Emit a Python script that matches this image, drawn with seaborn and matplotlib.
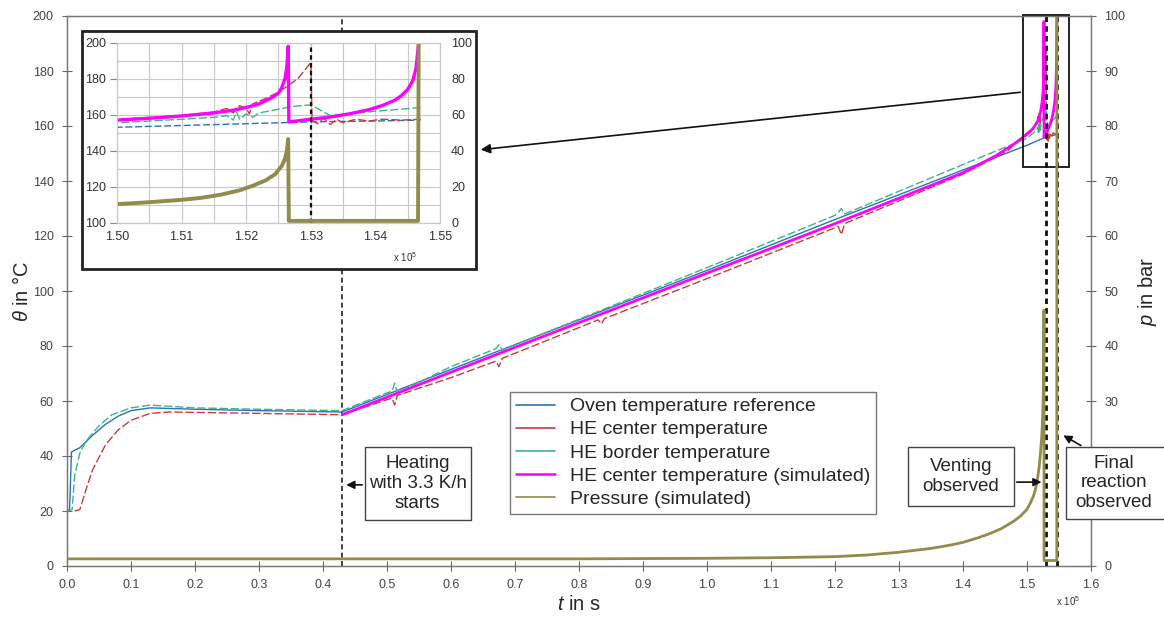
import numpy as np
import seaborn as sns
import matplotlib.pyplot as plt
from matplotlib.lines import Line2D
from matplotlib.patches import Rectangle

# time axis in units of 1e5 s
t_oven = [0.0, 0.004, 0.007, 0.02, 0.04, 0.06, 0.08, 0.10, 0.13, 0.20, 0.30, 0.43,
          0.60, 0.80, 1.00, 1.20, 1.40, 1.50, 1.51, 1.52, 1.53, 1.54, 1.547]
oven = [20, 20.5, 41.5, 43, 47.5, 51.5, 54.5, 56.5, 57.5, 57, 56.5, 56,
        71.5, 89.5, 107.5, 126, 144, 153, 154, 155, 156, 156.5, 157]

t_center = [0.012, 0.02, 0.03, 0.04, 0.06, 0.08, 0.10, 0.13, 0.16, 0.30, 0.43,
            0.50, 0.508, 0.512, 0.516, 0.60, 0.67, 0.675, 0.68, 0.83, 0.835, 0.84,
            1.00, 1.20, 1.205, 1.21, 1.215, 1.40, 1.47, 1.50, 1.51, 1.515, 1.517,
            1.518, 1.519, 1.520, 1.5205, 1.521, 1.523, 1.525, 1.528, 1.530,
            1.5302, 1.531, 1.532, 1.533, 1.534, 1.535, 1.537, 1.539, 1.541, 1.544, 1.547]
center = [20, 20.5, 28, 35, 44, 49.5, 53, 55.5, 56, 55.5, 55,
          60.5, 61, 58.5, 62, 68.5, 74.5, 72.5, 75.5, 89.5, 88, 90,
          104.5, 123, 123.5, 120.5, 124.5, 142.5, 151, 157.5, 159.5, 161.5, 163.5,
          161, 165, 163.5, 160.5, 166, 169, 172.5, 180, 189,
          157, 155, 158, 154.5, 157.5, 155.5, 157.5, 156.5, 157.5, 157, 157.5]

t_border = [0.0, 0.008, 0.012, 0.02, 0.03, 0.05, 0.07, 0.10, 0.13, 0.20, 0.30, 0.43,
            0.50, 0.508, 0.512, 0.516, 0.60, 0.67, 0.675, 0.68, 1.00, 1.20, 1.205,
            1.21, 1.215, 1.40, 1.50, 1.51, 1.515, 1.517, 1.518, 1.5185, 1.519, 1.520,
            1.521, 1.522, 1.525, 1.527, 1.530, 1.533, 1.537, 1.542, 1.547]
border = [20, 20.5, 33, 41, 45.5, 51, 55, 57.5, 58.5, 57.5, 57, 56.5,
          63, 63.5, 66.5, 63, 72.5, 79, 80.5, 78.5, 108.5, 127.5, 128.5,
          130, 128, 146, 155.5, 157.5, 158.5, 159.5, 157, 161.5, 157.5, 160.5,
          158.5, 161, 163, 164.5, 165.5, 159.5, 161, 162.5, 164]

t_sim = [0.43, 0.60, 0.80, 1.00, 1.20, 1.40, 1.45, 1.48, 1.50, 1.505, 1.51, 1.515,
         1.518, 1.52, 1.522, 1.524, 1.525, 1.5255, 1.526, 1.5263, 1.5265, 1.5266,
         1.53, 1.533, 1.536, 1.539, 1.541, 1.543, 1.544, 1.545, 1.5458, 1.5463, 1.5467]
sim = [55, 70.5, 88.5, 106.5, 124.5, 143, 149, 153.5, 157, 158, 159.3, 161,
       162.5, 164, 166, 169.5, 172, 175, 180, 187, 198, 156,
       157.5, 158.7, 160.5, 162.8, 165, 168, 170.5, 174, 179, 186, 200]

t_p = [0.0, 0.2, 0.4, 0.6, 0.8, 1.0, 1.1, 1.2, 1.25, 1.3, 1.35, 1.38, 1.4, 1.42,
       1.44, 1.46, 1.48, 1.49, 1.50, 1.505, 1.51, 1.513, 1.516, 1.519, 1.521,
       1.523, 1.5245, 1.5255, 1.526, 1.5263, 1.5265, 1.5266, 1.5466, 1.5467]
pressure = [1.3, 1.3, 1.3, 1.3, 1.3, 1.4, 1.5, 1.7, 2.0, 2.5, 3.2, 3.8, 4.3, 5.0,
            5.8, 6.8, 8.2, 9.1, 10.3, 11.4, 12.7, 13.8, 15.5, 18, 20.5,
            23.5, 27, 31.5, 35.5, 40, 46.5, 1.0, 1.0, 100]

events = [0.43, 1.53, 1.547]

labels = ['Oven temperature reference', 'HE center temperature',
          'HE border temperature', 'HE center temperature (simulated)',
          'Pressure (simulated)']
colors = ['#2a74b5', '#d0393b', '#3cb58a', '#ff00ff', '#8f8c4c']

sns.set_style('ticks')
plt.rcParams['font.family'] = ['Liberation Sans', 'DejaVu Sans']
plt.rcParams['mathtext.fontset'] = 'custom'
plt.rcParams['mathtext.it'] = 'Liberation Sans:italic'
plt.rcParams['mathtext.rm'] = 'Liberation Sans'

W, H = 1164, 619
fig = plt.figure(figsize=(W / 100, H / 100), dpi=100)
ax = fig.add_axes([67 / W, 53 / H, 1024 / W, 550 / H])
ax2 = ax.twinx()


def draw(a, t, v, color, lw, ls='-'):
    sns.lineplot(x=t, y=v, ax=a, color=color, lw=lw, linestyle=ls,
                 sort=False, estimator=None, legend=False)


def draw_all(a, b, big):
    draw(a, t_oven, oven, colors[0], 1.0, '-' if big else (0, (5, 2)))
    draw(a, t_center, center, colors[1], 1.0, (0, (6, 2)))
    draw(a, t_border, border, colors[2], 1.0, (0, (6, 2)))
    draw(a, t_sim, sim, colors[3], 2.0 if big else 2.4)
    draw(b, t_p, pressure, colors[4], 2.0 if big else 2.8)


draw_all(ax, ax2, True)

ax.set_xlim(0, 1.6)
ax.set_ylim(0, 200)
ax2.set_ylim(0, 100)
ax.set_xticks(np.arange(0, 1.61, 0.1))
ax.set_xticklabels([f'{v:.1f}' for v in np.arange(0, 1.61, 0.1)])
ax.set_yticks(range(0, 201, 20))
# labels 10 and 20 sit under the "Final reaction observed" box
p_ticks = list(range(0, 101, 10))
ax2.set_yticks(p_ticks)
ax2.set_yticklabels(['' if v in (10, 20) else str(v) for v in p_ticks])
for a in (ax, ax2):
    a.tick_params(direction='inout', length=7, width=0.8, color='#666',
                  labelsize=9, labelcolor='#444', pad=6)
    for s in a.spines.values():
        s.set_color('#777')
        s.set_linewidth(0.9)
        s.set_visible(True)

ax.set_xlabel(r'$t$ in s', fontsize=14.5, labelpad=3)
ax.set_ylabel(r'$\theta$ in °C', fontsize=14.5)
ax.yaxis.set_label_coords(-0.034, 0.5)
ax2.set_ylabel(r'$p$ in bar', fontsize=14.5)
ax2.yaxis.set_label_coords(1.044, 0.5)
fig.text(1068 / W, 1 - 601 / H, r'x 10$^5$', fontsize=7, color='#333', ha='center', va='center')

# event lines
ax.axvline(events[0], color='#222', lw=1.2, ls=(0, (3, 2)), zorder=1)
for e in events[1:]:
    ax.axvline(e, color='#111', lw=2, ls=(0, (2, 1.5)), zorder=5)

# zoom box in main plot
ax.add_patch(Rectangle((1.494, 145), 0.072, 55.5, fill=False, ec='#111', lw=1.3,
                       clip_on=False, zorder=6))

# annotation boxes (drawn on the twin axes so they sit above the right ticks)
arrow_kw = dict(arrowstyle='-|>', color='#111', lw=1.2, mutation_scale=12)
boxes = [((0.4656, 16.7), 0.1657, 26.6, (0.548, 30.0), 'Heating\nwith 3.3 K/h\nstarts'),
         ((1.3141, 21.8), 0.1656, 21.5, (1.397, 32.5), 'Venting\nobserved'),
         ((1.5609, 17.1), 0.1700, 26.2, (1.636, 30.2), 'Final\nreaction\nobserved')]
for (x0, y0), w, h, (tx, ty), txt in boxes:
    ax2.add_patch(Rectangle((x0, y0), w, h, transform=ax.transData, fc='white',
                            ec='#444', lw=1, clip_on=False, zorder=7))
    ax2.text(tx, ty, txt, transform=ax.transData, ha='center', va='center',
             fontsize=13.5, linespacing=1.2, zorder=8, clip_on=False)

ax2.annotate('', xy=(0.432, 29.5), xytext=(0.4656, 29.5), xycoords=ax.transData,
             textcoords=ax.transData, arrowprops=arrow_kw)
ax2.annotate('', xy=(1.527, 30.5), xytext=(1.4797, 30.5), xycoords=ax.transData,
             textcoords=ax.transData, arrowprops=arrow_kw)
ax2.annotate('', xy=(1.553, 48), xytext=(1.588, 43.3), xycoords=ax.transData,
             textcoords=ax.transData, arrowprops=arrow_kw, annotation_clip=False)

# legend
handles = [Line2D([], [], color=c, lw=1.8 if i == 3 else 1.2) for i, c in enumerate(colors)]
leg = ax2.legend(handles, labels, loc='upper left', bbox_to_anchor=(510 / W, 1 - 392 / H),
                 bbox_transform=fig.transFigure, fontsize=14, frameon=True, fancybox=False,
                 edgecolor='#555', handlelength=2.0, handletextpad=0.8, labelspacing=0.28,
                 borderpad=0.3, borderaxespad=0)
leg.get_frame().set_linewidth(1)

# inset
fig.add_artist(Rectangle((82 / W, 1 - 269 / H), 394 / W, 238 / H, transform=fig.transFigure,
                         fc='white', ec='#222', lw=2, zorder=2))
ax_in = fig.add_axes([117 / W, 1 - 222.7 / H, 323 / W, 180 / H])
ax_in2 = ax_in.twinx()
ax_in.set_zorder(3)
ax_in2.set_zorder(4)
draw_all(ax_in, ax_in2, False)
ax_in.axvline(1.53, color='#111', lw=1.6, ls=(0, (2, 1.5)), zorder=5)
ax_in.set_xlim(1.50, 1.55)
ax_in.set_ylim(100, 200)
ax_in2.set_ylim(0, 100)
ax_in.set_xticks(np.arange(1.50, 1.5501, 0.01))
ax_in.set_xticklabels([f'{v:.2f}' for v in np.arange(1.50, 1.5501, 0.01)])
ax_in.set_xticks(np.arange(1.50, 1.5501, 0.005), minor=True)
ax_in.set_yticks(range(100, 201, 20))
ax_in.set_yticks(range(100, 201, 10), minor=True)
ax_in2.set_yticks(range(0, 101, 20))
ax_in.grid(which='both', color='#c8c8c8', lw=0.8)
ax_in.tick_params(which='minor', length=0)
ax_in.tick_params(axis='x', length=0, pad=6, labelsize=9, labelcolor='#333')
ax_in.tick_params(axis='y', length=5, width=0.8, color='#888', pad=3, labelsize=9, labelcolor='#333')
ax_in2.tick_params(axis='y', length=0, pad=8, labelsize=9, labelcolor='#333')
for a in (ax_in, ax_in2):
    a.set_xlabel('')
    a.set_ylabel('')
    for s in a.spines.values():
        s.set_color('#c8c8c8')
        s.set_linewidth(0.8)
fig.text(405 / W, 1 - 257 / H, r'x 10$^5$', fontsize=7, color='#333', ha='center', va='center',
         zorder=5)

# arrow from zoom box to inset
ax2.annotate('', xy=(478 / W, 1 - 150 / H), xycoords='figure fraction',
             xytext=(1023 / W, 1 - 92 / H), textcoords='figure fraction',
             arrowprops=dict(arrowstyle='-|>', color='#111', lw=1.2, mutation_scale=14))

fig.savefig('out.png', dpi=100)
